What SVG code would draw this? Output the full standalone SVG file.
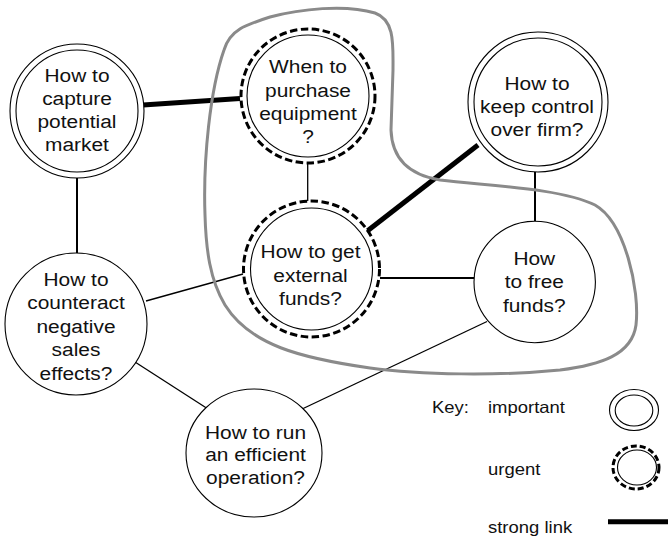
<svg xmlns="http://www.w3.org/2000/svg" width="668" height="540" viewBox="0 0 668 540">
  <style>
    .bg { fill: #ffffff; }
    .ring { fill: #ffffff; stroke: #000000; stroke-width: 1.1; }
    .dash { fill: #ffffff; stroke: #000000; stroke-width: 3; stroke-dasharray: 7.5 3.5; }
    .link { stroke: #000000; stroke-width: 1.3; fill: none; }
    .mid { stroke: #000000; stroke-width: 2; fill: none; }
    .strong { stroke: #000000; stroke-width: 5; fill: none; }
    .zone { fill: none; stroke: #8a8a8a; stroke-width: 3; stroke-linejoin: round; }
    .lbl { font-family: "Liberation Sans", Arial, Helvetica, sans-serif; font-size: 19px; fill: #111111; text-anchor: middle; }
    .key { font-family: "Liberation Sans", Arial, Helvetica, sans-serif; font-size: 16.5px; fill: #111111; }
  </style>

  <rect class="bg" x="0" y="0" width="668" height="540"/>

  <!-- connectors -->
  <g id="connectors">
    <line class="strong" x1="143" y1="105" x2="240" y2="98.5"/>
    <line class="mid" x1="77" y1="178" x2="77" y2="253"/>
    <line class="link" x1="307.7" y1="163" x2="307.7" y2="201"/>
    <line class="strong" x1="478" y1="145" x2="366" y2="232"/>
    <line class="mid" x1="535" y1="172" x2="535" y2="221"/>
    <line class="mid" x1="380" y1="278" x2="474" y2="278"/>
    <line class="link" x1="146" y1="301" x2="243" y2="274"/>
    <line class="link" x1="135" y1="362" x2="208" y2="409"/>
    <line class="link" x1="487" y1="321.5" x2="300" y2="410"/>
  </g>

  <!-- grouping boundary around the funding questions -->
  <path id="boundary" class="zone" d="M 205,215 C 203,160 210,90 224,50 C 230,30 245,25 270,17 C 300,9 345,4 375,13 C 395,20 393,45 393,70 L 391,130 C 392,160 410,175 440,180 C 490,186 560,188 595,205 C 625,222 640,290 636,325 C 632,355 600,365 560,370 C 500,376 420,375 370,368 C 300,358 250,345 225,305 C 210,280 206,250 205,215 Z"/>

  <!-- nodes -->
  <g id="capture-market">
    <circle class="ring" cx="77" cy="111" r="67"/>
    <circle class="ring" cx="77" cy="111" r="61"/>
    <g transform="translate(77 0) scale(1.1 1)">
      <text class="lbl" x="0" y="82">How to</text>
      <text class="lbl" x="0" y="105">capture</text>
      <text class="lbl" x="0" y="128">potential</text>
      <text class="lbl" x="0" y="151">market</text>
    </g>
  </g>

  <g id="purchase-equipment">
    <circle class="dash" cx="308" cy="96" r="67"/>
    <circle class="ring" cx="308" cy="96" r="61"/>
    <g transform="translate(308 0) scale(1.1 1)">
      <text class="lbl" x="0" y="73.5">When to</text>
      <text class="lbl" x="0" y="96.8">purchase</text>
      <text class="lbl" x="0" y="120">equipment</text>
      <text class="lbl" x="0" y="143.3">?</text>
    </g>
  </g>

  <g id="external-funds">
    <circle class="dash" cx="311.5" cy="269" r="68"/>
    <circle class="ring" cx="311.5" cy="269" r="61"/>
    <g transform="translate(310.5 0) scale(1.1 1)">
      <text class="lbl" x="0" y="258.3">How to get</text>
      <text class="lbl" x="0" y="281.7">external</text>
      <text class="lbl" x="0" y="305">funds?</text>
    </g>
  </g>

  <g id="keep-control">
    <circle class="ring" cx="538" cy="102" r="70"/>
    <circle class="ring" cx="538" cy="102" r="64"/>
    <g transform="translate(537 0) scale(1.1 1)">
      <text class="lbl" x="0" y="90">How to</text>
      <text class="lbl" x="0" y="113.3">keep control</text>
      <text class="lbl" x="0" y="136.5">over firm?</text>
    </g>
  </g>

  <g id="free-funds">
    <circle class="ring" cx="534.7" cy="282" r="60.7"/>
    <g transform="translate(534.3 0) scale(1.1 1)">
      <text class="lbl" x="0" y="265">How</text>
      <text class="lbl" x="0" y="288.3">to free</text>
      <text class="lbl" x="0" y="311.7">funds?</text>
    </g>
  </g>

  <g id="counteract-sales">
    <circle class="ring" cx="76" cy="324" r="71"/>
    <g transform="translate(76 0) scale(1.1 1)">
      <text class="lbl" x="0" y="286">How to</text>
      <text class="lbl" x="0" y="309.5">counteract</text>
      <text class="lbl" x="0" y="333">negative</text>
      <text class="lbl" x="0" y="356.5">sales</text>
      <text class="lbl" x="0" y="380">effects?</text>
    </g>
  </g>

  <g id="efficient-operation">
    <ellipse class="ring" cx="254" cy="453" rx="68" ry="64"/>
    <g transform="translate(255.5 0) scale(1.1 1)">
      <text class="lbl" x="0" y="439">How to run</text>
      <text class="lbl" x="0" y="461.5">an efficient</text>
      <text class="lbl" x="0" y="484">operation?</text>
    </g>
  </g>

  <!-- key -->
  <g id="legend">
    <g transform="translate(432 413.3) scale(1.12 1)"><text class="key" x="0" y="0">Key:</text></g>
    <g transform="translate(488 413.3) scale(1.12 1)"><text class="key" x="0" y="0">important</text></g>
    <g transform="translate(488 475) scale(1.12 1)"><text class="key" x="0" y="0">urgent</text></g>
    <g transform="translate(488 533.3) scale(1.12 1)"><text class="key" x="0" y="0">strong link</text></g>
    <ellipse class="ring" cx="634" cy="410" rx="24.5" ry="20.5"/>
    <ellipse class="ring" cx="634" cy="410.5" rx="18.8" ry="15.5"/>
    <ellipse class="dash" cx="636" cy="467.5" rx="23" ry="21.5" style="stroke-dasharray:6 3"/>
    <ellipse class="ring" cx="637" cy="467.5" rx="19.5" ry="17.5"/>
    <line class="strong" x1="608" y1="521.7" x2="668" y2="521.7"/>
  </g>
</svg>
